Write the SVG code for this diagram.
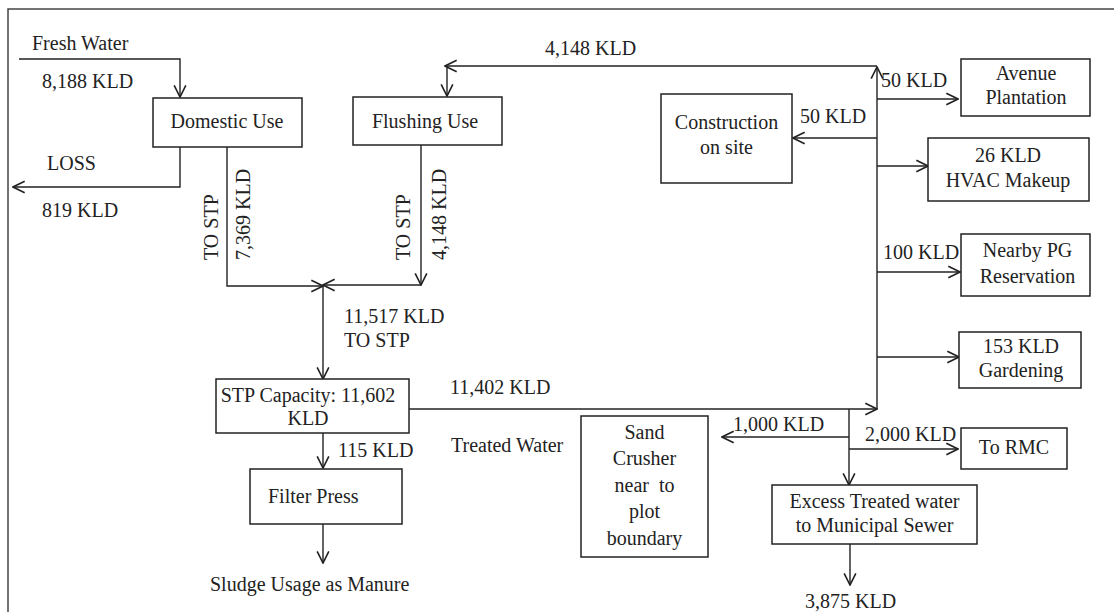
<svg xmlns="http://www.w3.org/2000/svg" width="1114" height="612" viewBox="0 0 1114 612">
<style>
text{font-family:"Liberation Serif","Times New Roman",serif;font-size:20px;fill:#222}
.c{text-anchor:middle}
.box{fill:#fff;stroke:#222;stroke-width:1.5}
.ln{fill:none;stroke:#222;stroke-width:1.4;marker-end:url(#ah)}
.pl{fill:none;stroke:#222;stroke-width:1.4}
</style>
<defs>
<marker id="ah" markerUnits="userSpaceOnUse" markerWidth="14" markerHeight="14" viewBox="0 0 12 12" refX="11" refY="6" orient="auto">
<path d="M1,1 L11,6 L1,11" fill="none" stroke="#222" stroke-width="1.4"/>
</marker>
</defs>
<rect width="1114" height="612" fill="#fff"/>
<path d="M8,620 V9 H1120" fill="none" stroke="#444" stroke-width="1.5"/>

<g id="connectors">
<path class="ln" d="M19,59 H180 V97"/>
<path class="ln" d="M180,147 V187 H13"/>
<path class="ln" d="M227,147 V286 H323"/>
<path class="ln" d="M421,145 V285"/>
<path class="ln" d="M421,285 H323"/>
<path class="ln" d="M323,286 V379"/>
<path class="ln" d="M409,409 H877"/>
<path class="ln" d="M877,409 V67"/>
<path class="ln" d="M877,66 H445"/>
<path class="ln" d="M447,66 V96"/>
<path class="ln" d="M877,99 H958"/>
<path class="ln" d="M877,138 H793"/>
<path class="ln" d="M877,166 H928"/>
<path class="ln" d="M877,272 H960"/>
<path class="ln" d="M877,357 H959"/>
<path class="ln" d="M849,409 V485"/>
<path class="ln" d="M849,437 H722"/>
<path class="ln" d="M849,449 H958"/>
<path class="ln" d="M850,544 V585"/>
<path class="ln" d="M323,433 V468"/>
<path class="ln" d="M323,524 V563"/>
</g>

<g id="labels">
<text x="32" y="50">Fresh Water</text>
<text x="42" y="88">8,188 KLD</text>
<text x="47" y="170">LOSS</text>
<text x="42" y="217">819 KLD</text>
<text x="545" y="55">4,148 KLD</text>
<text x="881" y="87">50 KLD</text>
<text x="800" y="123">50 KLD</text>
<text x="883" y="259">100 KLD</text>
<text x="344" y="323">11,517 KLD</text>
<text x="344" y="347">TO STP</text>
<text x="450" y="394">11,402 KLD</text>
<text x="451" y="452">Treated Water</text>
<text x="338" y="457">115 KLD</text>
<text x="733" y="431">1,000 KLD</text>
<text x="865" y="441">2,000 KLD</text>
<text x="805" y="608">3,875 KLD</text>
<text x="210" y="591">Sludge Usage as Manure</text>
<text transform="translate(218,260) rotate(-90)">TO STP</text>
<text transform="translate(250,260) rotate(-90)">7,369 KLD</text>
<text transform="translate(410,260) rotate(-90)">TO STP</text>
<text transform="translate(446,260) rotate(-90)">4,148 KLD</text>
</g>

<g id="domestic"><rect class="box" x="153" y="98" width="149" height="49"/><text class="c" x="227" y="128">Domestic Use</text></g>
<g id="flushing"><rect class="box" x="353" y="97" width="149" height="48"/><text class="c" x="425" y="128">Flushing Use</text></g>
<g id="construction"><rect class="box" x="661" y="94" width="131" height="89"/><text class="c" x="726.5" y="129">Construction</text><text class="c" x="726.5" y="154">on site</text></g>
<g id="avenue"><rect class="box" x="961" y="59" width="129" height="57"/><text class="c" x="1026" y="80">Avenue</text><text class="c" x="1026" y="104">Plantation</text></g>
<g id="hvac"><rect class="box" x="928" y="138" width="161" height="63"/><text class="c" x="1008" y="162">26 KLD</text><text class="c" x="1008" y="187">HVAC Makeup</text></g>
<g id="pg"><rect class="box" x="961" y="234" width="129" height="62"/><text class="c" x="1027.5" y="257">Nearby PG</text><text class="c" x="1027.5" y="283">Reservation</text></g>
<g id="gardening"><rect class="box" x="959" y="332" width="122" height="56"/><text class="c" x="1021" y="353">153 KLD</text><text class="c" x="1021" y="377">Gardening</text></g>
<g id="stp"><rect class="box" x="216" y="379" width="193" height="54"/><text class="c" x="308" y="402">STP Capacity: 11,602</text><text class="c" x="308" y="425">KLD</text></g>
<g id="filter"><rect class="box" x="250" y="469" width="152" height="55"/><text x="268" y="503">Filter Press</text></g>
<g id="sand"><rect class="box" x="581" y="416" width="127" height="141"/><text class="c" x="644.5" y="439">Sand</text><text class="c" x="644.5" y="465">Crusher</text><text class="c" x="644.5" y="492" style="white-space:pre">near  to</text><text class="c" x="644.5" y="518">plot</text><text class="c" x="644.5" y="545">boundary</text></g>
<g id="rmc"><rect class="box" x="961" y="428" width="106" height="41"/><text class="c" x="1014" y="454">To RMC</text></g>
<g id="excess"><rect class="box" x="772" y="485" width="205" height="59"/><text class="c" x="874.5" y="508">Excess Treated water</text><text class="c" x="874.5" y="532">to Municipal Sewer</text></g>
</svg>
